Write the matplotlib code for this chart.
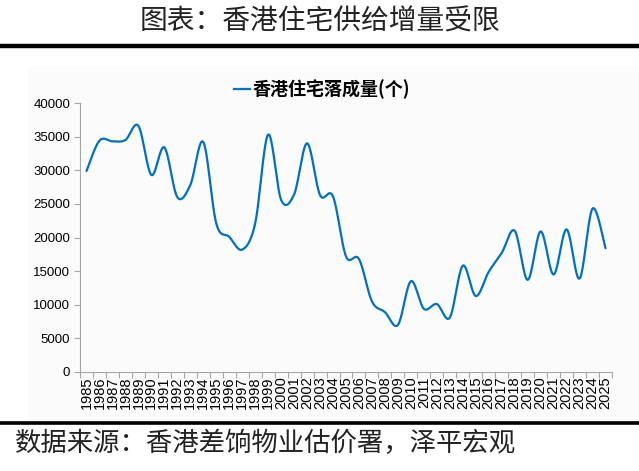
import numpy as np
import matplotlib
matplotlib.use("Agg")
import matplotlib.pyplot as plt
from matplotlib.patches import Rectangle
from matplotlib.lines import Line2D

years = [str(y) for y in range(1985, 2026)]
completions = [29900, 34400, 34300, 34500, 36600, 29300, 33400, 26000, 27800, 34200,
               22100, 20100, 18200, 22100, 35300, 25600, 26400, 34000, 26300, 26100,
               17200, 16800, 10500, 8900, 7000, 13500, 9400, 10100, 8100, 15800,
               11300, 14900, 17700, 21000, 13700, 20900, 14500, 21200, 13900, 24300,
               18400]
yticks = list(range(0, 40001, 5000))

title = "图表：香港住宅供给增量受限"
legend_label = "香港住宅落成量(个)"
source = "数据来源：香港差饷物业估价署，泽平宏观"

cjk = ["Noto Sans CJK SC", "DejaVu Sans"]
num_font = ["Liberation Sans", "DejaVu Sans"]
blue = "#0070C0"


def smooth(xs, ys, steps=20):
    # Excel-style smoothed line: Catmull-Rom as cubic Bezier segments
    xs = np.asarray(xs, float)
    ys = np.asarray(ys, float)
    n = len(xs)
    out_x, out_y = [], []
    t = np.linspace(0, 1, steps, endpoint=False)
    for i in range(n - 1):
        i0 = max(i - 1, 0)
        i3 = min(i + 2, n - 1)
        p0 = np.array([xs[i], ys[i]])
        p3 = np.array([xs[i + 1], ys[i + 1]])
        c1 = p0 + (p3 - np.array([xs[i0], ys[i0]])) / 6
        c2 = p3 - (np.array([xs[i3], ys[i3]]) - p0) / 6
        b = ((1 - t) ** 3)[:, None] * p0 + (3 * (1 - t) ** 2 * t)[:, None] * c1 \
            + (3 * (1 - t) * t ** 2)[:, None] * c2 + (t ** 3)[:, None] * p3
        out_x.extend(b[:, 0])
        out_y.extend(b[:, 1])
    out_x.append(xs[-1])
    out_y.append(ys[-1])
    return out_x, out_y


fig = plt.figure(figsize=(6.39, 4.71), dpi=100)

# faint chart area background
fig.patches.append(Rectangle((28 / 639, 49 / 471), 611 / 639, 355 / 471,
                             transform=fig.transFigure, facecolor="#fbfbfb",
                             edgecolor="none", zorder=-5))

ax = fig.add_axes([80 / 639, 99 / 471, 532 / 639, 269 / 471])
ax.set_facecolor("none")
ax.set_zorder(2)

x = np.arange(len(years))
sx, sy = smooth(x, completions)
ax.plot(sx, sy, color=blue, lw=1.6, solid_capstyle="round")

ax.set_xlim(-0.5, len(years) - 0.5)
ax.set_ylim(0, 40000)
ax.set_yticks(yticks)
ax.set_yticklabels([str(v) for v in yticks], fontfamily=num_font, fontsize=9.5)
ax.set_xticks(x)
ax.set_xticklabels(years, rotation=90, fontfamily=num_font, fontsize=10.5)
ax.set_xticks(np.arange(len(years) + 1) - 0.5, minor=True)
ax.tick_params(axis="x", which="major", length=0, pad=3)
ax.tick_params(axis="x", which="minor", length=4, color="#a6a6a6", width=0.8)
ax.tick_params(axis="y", length=4, color="#a6a6a6", width=0.8, pad=3)

for s in ["top", "right"]:
    ax.spines[s].set_visible(False)
for s in ["left", "bottom"]:
    ax.spines[s].set_color("#a6a6a6")
    ax.spines[s].set_linewidth(0.8)

# legend at top
handle = Line2D([], [], color=blue, lw=1.6)
leg = fig.legend([handle], [legend_label], loc="center", bbox_to_anchor=(322 / 639, 1 - 89 / 471),
                 frameon=False, handlelength=0.9, handletextpad=0.1,
                 prop={"family": cjk, "weight": "bold", "size": 13})

fig.text(0.5, 1 - 22 / 471, title, ha="center", va="center",
         fontfamily=cjk, fontsize=20, fontweight="light", color="#222222")
fig.add_artist(Line2D([0, 1], [1 - 46 / 471, 1 - 46 / 471], transform=fig.transFigure,
                      color="black", lw=3.2))
fig.add_artist(Line2D([0, 1], [1 - 423 / 471, 1 - 423 / 471], transform=fig.transFigure,
                      color="black", lw=2.6))
fig.text(15 / 639, 1 - 443 / 471, source, ha="left", va="center",
         fontfamily=cjk, fontsize=19, fontweight="light", style="italic", color="#222222")

fig.savefig("out.png", dpi=100)
